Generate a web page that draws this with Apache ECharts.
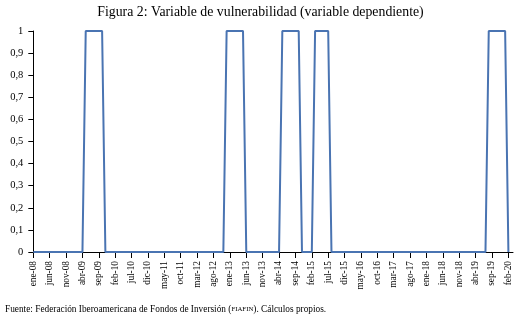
<!DOCTYPE html>
<html>
<head>
<meta charset="utf-8">
<script src="https://cdn.jsdelivr.net/npm/echarts@6/dist/echarts.min.js"></script>
<style>
  html, body { margin: 0; padding: 0; background: #fff; }
  #chart { width: 521px; height: 324px; }
</style>
</head>
<body>
<div id="chart"></div>
<script>
// Monthly dummy variable (1 = vulnerable month), January 2008 – February 2020
const v2008 = [0, 0, 0, 0, 0, 0, 0, 0, 0, 0, 0, 0];
const v2009 = [0, 0, 0, 0, 1, 1, 1, 1, 1, 1, 0, 0];
const v2010 = [0, 0, 0, 0, 0, 0, 0, 0, 0, 0, 0, 0];
const v2011 = [0, 0, 0, 0, 0, 0, 0, 0, 0, 0, 0, 0];
const v2012 = [0, 0, 0, 0, 0, 0, 0, 0, 0, 0, 0, 1];
const v2013 = [1, 1, 1, 1, 1, 0, 0, 0, 0, 0, 0, 0];
const v2014 = [0, 0, 0, 0, 1, 1, 1, 1, 1, 1, 0, 0];
const v2015 = [0, 0, 1, 1, 1, 1, 1, 0, 0, 0, 0, 0];
const v2016 = [0, 0, 0, 0, 0, 0, 0, 0, 0, 0, 0, 0];
const v2017 = [0, 0, 0, 0, 0, 0, 0, 0, 0, 0, 0, 0];
const v2018 = [0, 0, 0, 0, 0, 0, 0, 0, 0, 0, 0, 0];
const v2019 = [0, 0, 0, 0, 0, 0, 0, 1, 1, 1, 1, 1];
const v2020 = [1, 0];

// Axis labels, one every five months
const tickLabels = [
  'ene-08', 'jun-08', 'nov-08', 'abr-09', 'sep-09', 'feb-10', 'jul-10', 'dic-10',
  'may-11', 'oct-11', 'mar-12', 'ago-12', 'ene-13', 'jun-13', 'nov-13', 'abr-14',
  'sep-14', 'feb-15', 'jul-15', 'dic-15', 'may-16', 'oct-16', 'mar-17', 'ago-17',
  'ene-18', 'jun-18', 'nov-18', 'abr-19', 'sep-19', 'feb-20'
];
const tickStep = 5;

const monthly = [].concat(v2008, v2009, v2010, v2011, v2012, v2013, v2014,
                          v2015, v2016, v2017, v2018, v2019, v2020);
const points = monthly.map((v, i) => [i, v]);
const tickPositions = tickLabels.map((_, k) => k * tickStep);

const serif = "'Liberation Serif', 'DejaVu Serif', serif";

const chart = echarts.init(document.getElementById('chart'), null, { renderer: 'canvas' });
chart.setOption({
  animation: false,
  backgroundColor: '#fff',
  title: {
    text: 'Figura 2: Variable de vulnerabilidad (variable dependiente)',
    left: 'center',
    top: 0,
    textStyle: { fontFamily: serif, fontSize: 13.8, fontWeight: 'normal', color: '#000' }
  },
  grid: { left: 33.3, right: 8, top: 31, bottom: 72, containLabel: false },
  xAxis: {
    type: 'value',
    min: 0,
    max: 146.4,
    axisLine: { show: true, lineStyle: { color: '#000', width: 1 } },
    axisTick: { show: true, customValues: tickPositions, length: 6, lineStyle: { color: '#000' } },
    axisLabel: {
      customValues: tickPositions,
      rotate: 90,
      margin: 9,
      formatter: v => tickLabels[Math.round(v / tickStep)],
      fontFamily: serif,
      fontSize: 9.3,
      color: '#000'
    },
    splitLine: { show: false }
  },
  yAxis: {
    type: 'value',
    min: 0,
    max: 1,
    interval: 0.1,
    axisLine: { show: true, lineStyle: { color: '#000', width: 1 } },
    axisTick: { show: true, length: 5, lineStyle: { color: '#000' } },
    axisLabel: {
      margin: 10,
      formatter: v => {
        const r = Math.round(v * 10) / 10;
        return (r === 0 || r === 1) ? String(r) : r.toFixed(1).replace('.', ',');
      },
      fontFamily: serif,
      fontSize: 10.5,
      color: '#000'
    },
    splitLine: { show: false }
  },
  series: [{
    type: 'line',
    data: points,
    showSymbol: false,
    lineStyle: { color: '#4a74b2', width: 2 },
    z: 1
  }],
  graphic: [{
    type: 'text',
    left: 5,
    top: 305,
    style: {
      text: '{a|Fuente: Federación Iberoamericana de Fondos de Inversión (}{b|FIAFIN}{a|). Cálculos propios.}',
      rich: {
        a: { fontFamily: serif, fontSize: 9.3, fill: '#000' },
        b: { fontFamily: serif, fontSize: 6.8, fill: '#000' }
      }
    }
  }]
});
</script>
</body>
</html>
